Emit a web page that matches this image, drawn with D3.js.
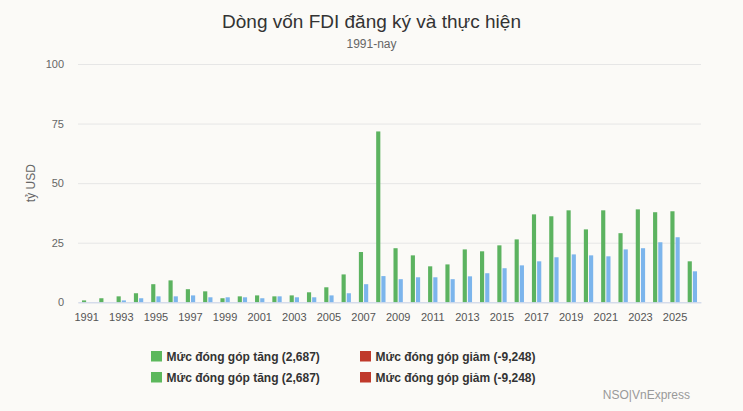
<!DOCTYPE html>
<html>
<head>
<meta charset="utf-8">
<script src="https://cdn.jsdelivr.net/npm/d3@7"></script>
<style>
  html, body { margin: 0; padding: 0; background: #fbfaf7; }
  svg { display: block; font-family: "Liberation Sans", Arial, sans-serif; }
</style>
</head>
<body>
<svg id="chart" width="743" height="411"></svg>
<script>
const years = d3.range(1991, 2027).map(String);
const registered = [0.8, 1.7, 2.5, 3.8, 7.6, 9.2, 5.5, 4.6, 1.7, 2.5, 2.9, 2.5, 2.9, 4.2, 6.3, 11.7, 21.1, 71.7,
  22.7, 19.7, 15.1, 15.9, 22.2, 21.4, 23.9, 26.4, 36.9, 36.1, 38.6, 30.6, 38.6, 29.0, 39.0, 37.8, 38.2, 17.2];
const disbursed = [0, 0, 0.8, 1.7, 2.5, 2.5, 2.9, 2.1, 2.1, 2.1, 1.7, 2.5, 2.1, 2.1, 2.9, 3.8, 7.6, 11.0,
  9.7, 10.5, 10.5, 9.7, 10.9, 12.2, 14.3, 15.5, 17.2, 18.9, 20.1, 19.7, 19.3, 22.2, 22.7, 25.2, 27.3, 13.0];
const yTicks = [0, 25, 50, 75, 100];
const xTickLabels = years.filter((d, i) => i % 2 === 0);
const seriesNames = ["registered", "disbursed"];
const seriesColors = ["#5cb360", "#7cb5ec"];
const legendLabels = ["Mức đóng góp tăng (2,687)", "Mức đóng góp giảm (-9,248)"];
const legendColors = ["#5cb85c", "#c0392b"];

const svg = d3.select("#chart");
const W = 743, H = 411;
const m = { left: 78, right: 42, top: 64, bottom: 109 };
const plotW = W - m.left - m.right;

const x = d3.scaleBand().domain(years).range([m.left, W - m.right]).paddingInner(0).paddingOuter(0);
const gx = d3.scaleBand().domain(seriesNames).range([0, x.bandwidth() * 0.6]).paddingInner(0.2).paddingOuter(0.1);
const y = d3.scaleLinear().domain([0, 100]).range([302.3, 64]);

// title
svg.append("text").attr("x", W / 2).attr("y", 28).attr("text-anchor", "middle")
  .attr("font-size", 19).attr("fill", "#333").text("Dòng vốn FDI đăng ký và thực hiện");
svg.append("text").attr("x", W / 2).attr("y", 48).attr("text-anchor", "middle")
  .attr("font-size", 12).attr("fill", "#666").text("1991-nay");

// gridlines + y labels
const yAxis = d3.axisLeft(y).tickValues(yTicks).tickSize(-plotW).tickPadding(14);
const gy = svg.append("g").attr("transform", `translate(${m.left},0)`).call(yAxis);
gy.select(".domain").remove();
gy.selectAll(".tick line").attr("stroke", "#e6e6e6").attr("stroke-width", 1);
gy.selectAll(".tick text").attr("font-size", 11).attr("fill", "#666")
  .attr("font-family", "Liberation Sans, Arial, sans-serif");

svg.append("text").attr("transform", `translate(35,${(y(0) + y(100)) / 2}) rotate(-90)`)
  .attr("text-anchor", "middle").attr("font-size", 12).attr("fill", "#666").text("tỷ USD");

// bars
const data = years.map((yr, i) => ({ year: yr, registered: registered[i], disbursed: disbursed[i] }));
const groups = svg.append("g").selectAll("g").data(data).join("g")
  .attr("transform", d => `translate(${x(d.year) + x.bandwidth() * 0.2},0)`);
groups.selectAll("rect").data(d => seriesNames.map((s, k) => ({ s, k, v: d[s] }))).join("rect")
  .attr("x", d => gx(d.s))
  .attr("width", gx.bandwidth())
  .attr("y", d => y(d.v))
  .attr("height", d => y(0) - y(d.v))
  .attr("fill", d => seriesColors[d.k]);

// x axis
const xAxis = d3.axisBottom(x).tickValues(xTickLabels).tickSize(0).tickPadding(11);
const gxAxis = svg.append("g").attr("transform", `translate(0,${y(0)})`).call(xAxis);
gxAxis.select(".domain").attr("stroke", "#ccd6eb");
gxAxis.selectAll(".tick text").attr("font-size", 11).attr("fill", "#555")
  .attr("font-family", "Liberation Sans, Arial, sans-serif");

// legend
const legendX = [151, 360];
const legendY = [351, 372];
legendY.forEach(ly => {
  legendLabels.forEach((lab, i) => {
    svg.append("rect").attr("x", legendX[i]).attr("y", ly).attr("width", 11).attr("height", 10.5)
      .attr("fill", legendColors[i]);
    svg.append("text").attr("x", legendX[i] + 15.5).attr("y", ly + 9.5)
      .attr("font-size", 12).attr("font-weight", "bold").attr("fill", "#333").text(lab);
  });
});

// credits
svg.append("text").attr("x", 690).attr("y", 399).attr("text-anchor", "end")
  .attr("font-size", 12).attr("fill", "#999").text("NSO|VnExpress");
</script>
</body>
</html>
